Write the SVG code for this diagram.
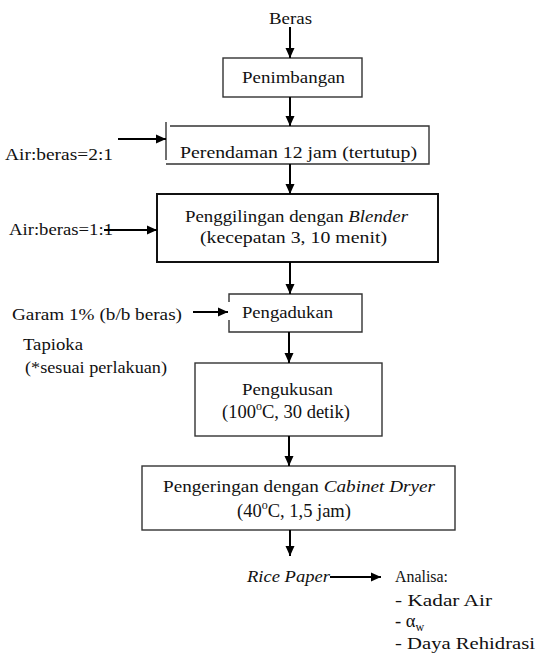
<svg xmlns="http://www.w3.org/2000/svg" width="536" height="654" viewBox="0 0 536 654" style="font-family:'Liberation Serif','DejaVu Serif',serif">
<style>
text{font-family:'Liberation Serif','DejaVu Serif',serif;font-size:17px;fill:#111}
.it{font-style:italic}
.big{font-size:18.5px}
.sup{font-size:12px}
.box{fill:none;stroke:#333;stroke-width:1.4}
.thick{fill:none;stroke:#111;stroke-width:2}
.arr{stroke:#000;stroke-width:2;fill:none;marker-end:url(#ah)}
</style>
<defs>
<marker id="ah" markerUnits="userSpaceOnUse" markerWidth="10" markerHeight="10" refX="10" refY="5" orient="auto">
<path d="M0,0.5 L10,5 L0,9.5 z" fill="#000"/>
</marker>
</defs>
<rect width="536" height="654" fill="#fff"/>
<g id="beras"><text x="269" y="24" textLength="43" lengthAdjust="spacingAndGlyphs">Beras</text></g>
<g id="penimbangan">
<rect class="box" x="223" y="58" width="139" height="39"/>
<text x="242" y="83" textLength="103" lengthAdjust="spacingAndGlyphs">Penimbangan</text>
</g>
<g id="air21"><text x="5" y="160" textLength="108" lengthAdjust="spacingAndGlyphs">Air:beras=2:1</text></g>
<g id="perendaman">
<path class="box" d="M170,126 H429 V164 H166 M166,122 V160"/>
<text x="180" y="158" textLength="237" lengthAdjust="spacingAndGlyphs">Perendaman 12 jam (tertutup)</text>
</g>
<g id="air11"><text x="9" y="235" textLength="104" lengthAdjust="spacingAndGlyphs">Air:beras=1:1</text></g>
<g id="penggilingan">
<rect class="thick" x="157" y="194" width="281" height="68"/>
<text x="185" y="222" textLength="223" lengthAdjust="spacingAndGlyphs">Penggilingan dengan <tspan class="it">Blender</tspan></text>
<text x="200" y="243" textLength="187" lengthAdjust="spacingAndGlyphs">(kecepatan 3, 10 menit)</text>
</g>
<g id="garam">
<text x="12" y="320" textLength="170" lengthAdjust="spacingAndGlyphs">Garam 1% (b/b beras)</text>
<text x="23" y="350" textLength="60" lengthAdjust="spacingAndGlyphs">Tapioka</text>
<text x="25" y="373" textLength="142" lengthAdjust="spacingAndGlyphs">(*sesuai perlakuan)</text>
</g>
<g id="pengadukan">
<path class="box" d="M229,302 V294 H362 V332 H229 V320"/>
<text x="242" y="318" textLength="91" lengthAdjust="spacingAndGlyphs">Pengadukan</text>
</g>
<g id="pengukusan">
<rect class="box" x="195" y="363" width="187" height="73"/>
<text x="242" y="395" textLength="91" lengthAdjust="spacingAndGlyphs">Pengukusan</text>
<text class="big" x="222" y="418">(100<tspan class="sup" dy="-8">o</tspan><tspan dy="8">C, 30 detik)</tspan></text>
</g>
<g id="pengeringan">
<rect class="box" x="142" y="466" width="313" height="64"/>
<text x="163" y="492" textLength="272" lengthAdjust="spacingAndGlyphs">Pengeringan dengan <tspan class="it">Cabinet Dryer</tspan></text>
<text class="big" x="237" y="517">(40<tspan class="sup" dy="-8">o</tspan><tspan dy="8">C, 1,5 jam)</tspan></text>
</g>
<g id="ricepaper"><text class="it" x="247" y="582" textLength="83" lengthAdjust="spacingAndGlyphs">Rice Paper</text></g>
<g id="analisa">
<text x="395" y="582" textLength="53" lengthAdjust="spacingAndGlyphs">Analisa:</text>
<text x="395" y="606" textLength="97" lengthAdjust="spacingAndGlyphs">- Kadar Air</text>
<text class="big" x="395" y="627">- α<tspan class="sup" dy="4">w</tspan></text>
<text x="395" y="649" textLength="140" lengthAdjust="spacingAndGlyphs">- Daya Rehidrasi</text>
</g>
<g id="connectors">
<line class="arr" x1="290" y1="27" x2="290" y2="58"/>
<line class="arr" x1="290" y1="97" x2="290" y2="126"/>
<line class="arr" x1="118" y1="139" x2="166" y2="139"/>
<line class="arr" x1="290" y1="164" x2="290" y2="194"/>
<line class="arr" x1="104" y1="230" x2="157" y2="230"/>
<line class="arr" x1="290" y1="262" x2="290" y2="294"/>
<line class="arr" x1="193" y1="312" x2="228" y2="312"/>
<line class="arr" x1="289" y1="332" x2="289" y2="363"/>
<line class="arr" x1="289" y1="436" x2="289" y2="466"/>
<line class="arr" x1="290" y1="530" x2="290" y2="556"/>
<line class="arr" x1="330" y1="577" x2="381" y2="577"/>
</g>
</svg>
